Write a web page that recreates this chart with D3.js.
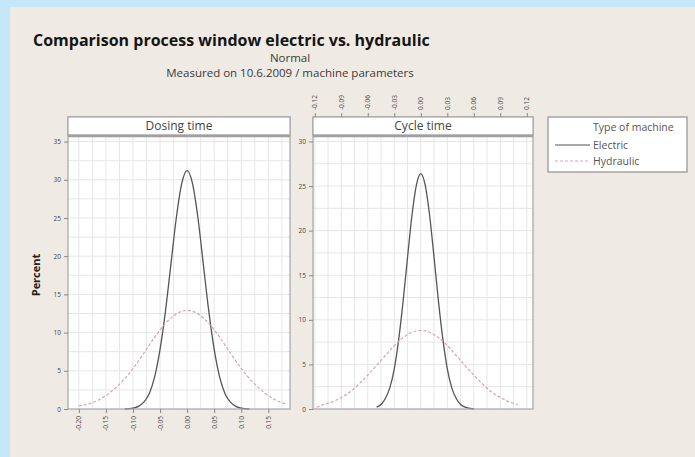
<!DOCTYPE html>
<html lang="en">
<head>
  <meta charset="UTF-8">
  <title>Process window - D3</title>
  <script src="https://d3js.org/d3.v7.min.js"></script>
  <style>
    body {
      margin: 0;
      background-color: #c4e8f9;
    }
    svg { display: block; }
    text { font-family: "Open Sans", "Noto Sans", sans-serif; }
    .title { font-size: 16px; font-weight: bold; fill: #151515; }
    .sub { font-size: 11.5px; fill: #3a3a3a; text-anchor: middle; }
    .axis text { font-size: 6.5px; fill: #444; }
    .axis path, .axis line { stroke: #888; }
    .grid line { stroke: #e6e6e6; stroke-width: 1; }
    .strip { font-size: 12px; fill: #444; text-anchor: middle; }
    .legend text { font-size: 10.5px; fill: #555; }
  </style>
</head>
<body>
<script>
  // categories (panels) and series
  var panels = ["Dosing time", "Cycle time"];
  var machines = ["Electric", "Hydraulic"];

  // tick labels
  var dosingXTicks = [-0.20, -0.15, -0.10, -0.05, 0.00, 0.05, 0.10, 0.15];
  var dosingYTicks = [0, 5, 10, 15, 20, 25, 30, 35];
  var cycleXTicks = [-0.12, -0.09, -0.06, -0.03, 0.00, 0.03, 0.06, 0.09, 0.12];
  var cycleYTicks = [0, 5, 10, 15, 20, 25, 30];

  // Dosing time - Electric
  var dosingElectricX = [-0.115, -0.10, -0.09, -0.08, -0.07, -0.06, -0.05, -0.04, -0.03, -0.02, -0.01, 0.00, 0.01, 0.02, 0.03, 0.04, 0.05, 0.06, 0.07, 0.08, 0.09, 0.10, 0.115];
  var dosingElectricY = [0, 0.1, 0.35, 0.9, 2.0, 4.2, 7.8, 12.8, 18.9, 25.0, 29.5, 31.2, 29.5, 25.0, 18.9, 12.8, 7.8, 4.2, 2.0, 0.9, 0.35, 0.1, 0];

  // Dosing time - Hydraulic
  var dosingHydraulicX = [-0.20, -0.18, -0.16, -0.14, -0.12, -0.10, -0.08, -0.06, -0.04, -0.02, 0.00, 0.02, 0.04, 0.06, 0.08, 0.10, 0.12, 0.14, 0.16, 0.185];
  var dosingHydraulicY = [0.4, 0.7, 1.3, 2.3, 3.6, 5.3, 7.3, 9.4, 11.2, 12.45, 12.9, 12.45, 11.2, 9.4, 7.3, 5.3, 3.6, 2.3, 1.3, 0.6];

  // Cycle time - Electric
  var cycleElectricX = [-0.05, -0.045, -0.04, -0.035, -0.03, -0.025, -0.02, -0.015, -0.01, -0.005, 0.00, 0.005, 0.01, 0.015, 0.02, 0.025, 0.03, 0.035, 0.04, 0.045, 0.05, 0.06];
  var cycleElectricY = [0.2, 0.5, 1.2, 2.4, 4.5, 7.8, 12.1, 17.0, 21.7, 25.1, 26.4, 25.1, 21.7, 17.0, 12.1, 7.8, 4.5, 2.4, 1.2, 0.5, 0.2, 0];

  // Cycle time - Hydraulic
  var cycleHydraulicX = [-0.118, -0.11, -0.10, -0.09, -0.08, -0.07, -0.06, -0.05, -0.04, -0.03, -0.02, -0.01, 0.00, 0.01, 0.02, 0.03, 0.04, 0.05, 0.06, 0.07, 0.08, 0.09, 0.10, 0.11];
  var cycleHydraulicY = [0.2, 0.5, 0.8, 1.3, 1.9, 2.8, 3.8, 4.9, 6.0, 7.1, 8.0, 8.6, 8.8, 8.6, 8.0, 7.1, 6.0, 4.9, 3.8, 2.8, 1.9, 1.3, 0.8, 0.5];

  var W = 695, H = 457;
  var svg = d3.select("body").append("svg")
      .attr("width", W)
      .attr("height", H);

  // beige page
  svg.append("rect")
     .attr("x", 10).attr("y", 7)
     .attr("width", W - 10).attr("height", H - 7)
     .attr("fill", "#efebe4");

  svg.append("text").attr("class", "title")
     .attr("x", 33).attr("y", 46)
     .text("Comparison process window electric vs. hydraulic");
  svg.append("text").attr("class", "sub")
     .attr("x", 290).attr("y", 62).text("Normal");
  svg.append("text").attr("class", "sub")
     .attr("x", 290).attr("y", 77).text("Measured on 10.6.2009 / machine parameters");

  var stripTop = 117, stripBot = 137, plotBot = 409;
  var fmt = d => d3.format(".2f")(d).replace("−", "-");

  var cfg = [
    { name: panels[0], x0: 68, x1: 290, xDom: [-0.22, 0.19], yMax: 35.6,
      xTicks: dosingXTicks, yTicks: dosingYTicks, xStep: 0.025, yStep: 2.5, bottom: true,
      series: [
        { xs: dosingElectricX, ys: dosingElectricY, m: machines[0] },
        { xs: dosingHydraulicX, ys: dosingHydraulicY, m: machines[1] }
      ] },
    { name: panels[1], x0: 313, x1: 533, xDom: [-0.122, 0.127], yMax: 30.5,
      xTicks: cycleXTicks, yTicks: cycleYTicks, xStep: 0.015, yStep: 2.5, bottom: false,
      series: [
        { xs: cycleElectricX, ys: cycleElectricY, m: machines[0] },
        { xs: cycleHydraulicX, ys: cycleHydraulicY, m: machines[1] }
      ] }
  ];

  var style = {
    Electric: { stroke: "#555", dash: null, width: 1.3 },
    Hydraulic: { stroke: "#d9a2aa", dash: "3,2", width: 1.2 }
  };

  cfg.forEach(function(p) {
    var x = d3.scaleLinear().domain(p.xDom).range([p.x0, p.x1]);
    var y = d3.scaleLinear().domain([0, p.yMax]).range([plotBot, stripBot]);

    // plot background
    svg.append("rect")
       .attr("x", p.x0).attr("y", stripBot)
       .attr("width", p.x1 - p.x0).attr("height", plotBot - stripBot)
       .attr("fill", "#fff");

    // grid
    var g = svg.append("g").attr("class", "grid");
    var gx = d3.range(Math.ceil(p.xDom[0] / p.xStep), Math.floor(p.xDom[1] / p.xStep) + 1).map(i => i * p.xStep);
    g.selectAll(".gx").data(gx).enter().append("line")
     .attr("x1", d => x(d)).attr("x2", d => x(d))
     .attr("y1", stripBot).attr("y2", plotBot);
    var gy = d3.range(1, Math.floor(p.yMax / p.yStep) + 1).map(i => i * p.yStep);
    g.selectAll(".gy").data(gy).enter().append("line")
     .attr("x1", p.x0).attr("x2", p.x1)
     .attr("y1", d => y(d)).attr("y2", d => y(d));

    // curves
    var line = d3.line().x(d => x(d[0])).y(d => y(d[1])).curve(d3.curveMonotoneX);
    p.series.forEach(function(s) {
      var pts = s.xs.map((v, i) => [v, s.ys[i]]);
      var st = style[s.m];
      svg.append("path")
         .datum(pts)
         .attr("d", line)
         .attr("fill", "none")
         .attr("stroke", st.stroke)
         .attr("stroke-width", st.width)
         .attr("stroke-dasharray", st.dash);
    });

    // frame
    svg.append("rect")
       .attr("x", p.x0).attr("y", stripTop)
       .attr("width", p.x1 - p.x0).attr("height", plotBot - stripTop)
       .attr("fill", "none").attr("stroke", "#a5a5a5").attr("stroke-width", 1.2);

    // strip
    svg.append("rect")
       .attr("x", p.x0).attr("y", stripTop)
       .attr("width", p.x1 - p.x0).attr("height", stripBot - stripTop - 2)
       .attr("fill", "#fff").attr("stroke", "#a5a5a5").attr("stroke-width", 1.2);
    svg.append("line")
       .attr("x1", p.x0).attr("x2", p.x1)
       .attr("y1", stripBot - 1).attr("y2", stripBot - 1)
       .attr("stroke", "#a0a0a0").attr("stroke-width", 2.5);
    svg.append("text").attr("class", "strip")
       .attr("x", (p.x0 + p.x1) / 2).attr("y", stripTop + 13)
       .text(p.name);

    // y axis
    svg.append("g").attr("class", "axis")
       .attr("transform", `translate(${p.x0},0)`)
       .call(d3.axisLeft(y).tickValues(p.yTicks).tickSize(4).tickPadding(3))
       .call(a => a.select(".domain").remove());

    // x axis (bottom for left panel, top for right panel)
    if (p.bottom) {
      svg.append("g").attr("class", "axis")
         .attr("transform", `translate(0,${plotBot})`)
         .call(d3.axisBottom(x).tickValues(p.xTicks).tickFormat(fmt).tickSize(4))
         .call(a => a.select(".domain").remove())
         .selectAll("text")
         .attr("transform", "rotate(-90)")
         .attr("x", -7).attr("y", 0).attr("dy", "0.32em")
         .style("text-anchor", "end");
    } else {
      svg.append("g").attr("class", "axis")
         .attr("transform", `translate(0,${stripTop})`)
         .call(d3.axisTop(x).tickValues(p.xTicks).tickFormat(fmt).tickSize(4))
         .call(a => a.select(".domain").remove())
         .selectAll("text")
         .attr("transform", "rotate(-90)")
         .attr("x", 7).attr("y", 0).attr("dy", "0.32em")
         .style("text-anchor", "start");
    }
  });

  // y label
  svg.append("text")
     .attr("transform", "translate(40,275) rotate(-90)")
     .attr("text-anchor", "middle")
     .style("font-size", "11px").style("font-weight", "bold").style("fill", "#222")
     .text("Percent");

  // legend
  var lg = svg.append("g").attr("class", "legend");
  lg.append("rect")
    .attr("x", 548).attr("y", 117).attr("width", 139).attr("height", 55)
    .attr("fill", "#fff").attr("stroke", "#a5a5a5").attr("stroke-width", 1.5);
  lg.append("text").attr("x", 593).attr("y", 131).text("Type of machine");
  machines.forEach(function(m, i) {
    var yy = 145 + i * 16;
    lg.append("line")
      .attr("x1", 555).attr("x2", 590).attr("y1", yy).attr("y2", yy)
      .attr("stroke", style[m].stroke).attr("stroke-width", 1)
      .attr("stroke-dasharray", style[m].dash);
    lg.append("text").attr("x", 593).attr("y", yy + 3.5).text(m);
  });
</script>
</body>
</html>
